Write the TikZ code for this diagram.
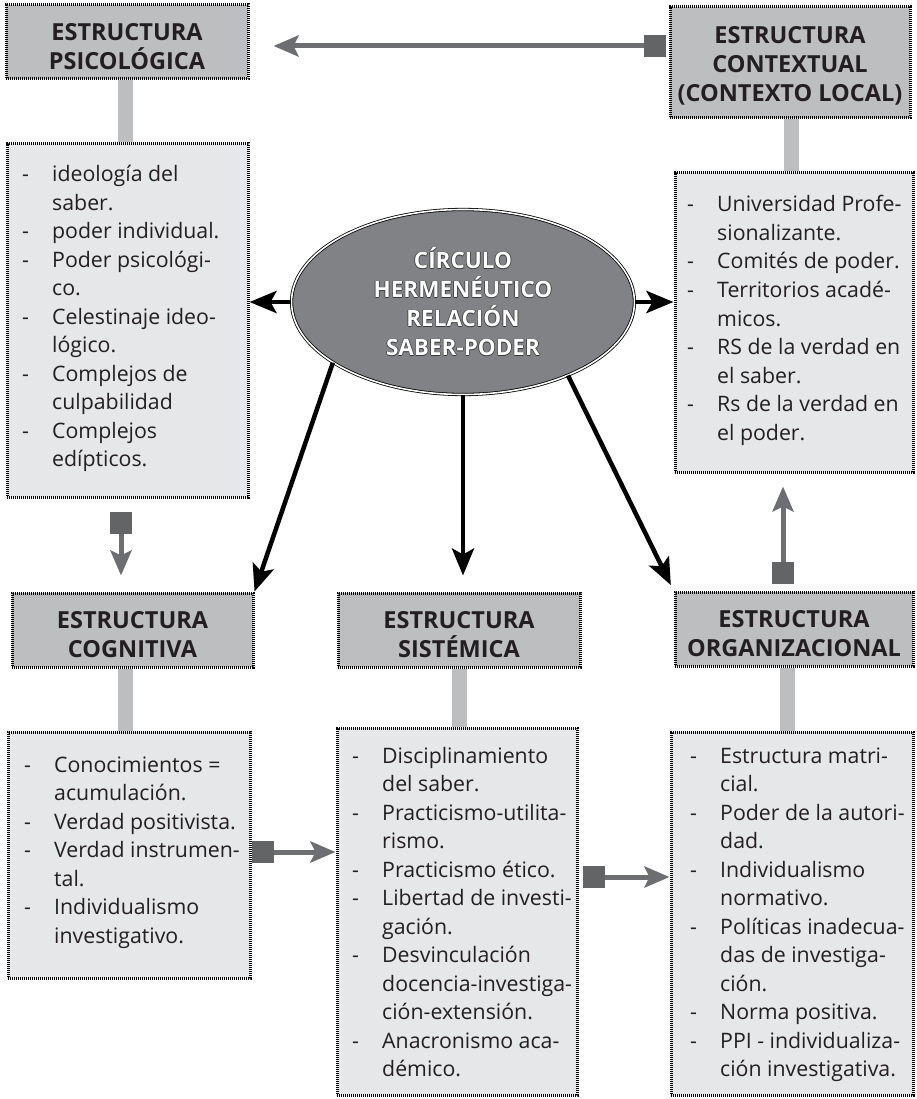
\documentclass[tikz,border=0pt]{standalone}
\usepackage{fontspec}
\setmainfont{Open Sans}
\usetikzlibrary{arrows.meta,shapes.geometric,backgrounds}
\definecolor{hdrgray}{HTML}{BCBEC0}
\definecolor{bodygray}{HTML}{E6E7E8}
\definecolor{bargray}{HTML}{BCBEC0}
\definecolor{sqgray}{HTML}{636466}
\definecolor{arrgray}{HTML}{6D6E71}
\definecolor{ellgray}{HTML}{808285}
\definecolor{txtdark}{HTML}{231F20}
\definecolor{olcol}{HTML}{3A3A3C}
\newcommand\olt[1]{\leavevmode\rlap{\color{olcol}\kern-0.7pt#1}\rlap{\color{olcol}\kern0.7pt#1}\rlap{\color{olcol}\raisebox{0.7pt}{#1}}\rlap{\color{olcol}\raisebox{-0.7pt}{#1}}{\color{white}#1}}
\tikzset{
 hatch/.style={draw=black, line width=3pt, dash pattern=on 1.1pt off 0.9pt},
 headbox/.style={rectangle, fill=hdrgray, hatch, inner sep=0pt},
 headlabel/.style={inner sep=0pt, align=center, text=txtdark, font=\fontsize{23.5}{29}\bfseries, yshift=-4.5pt},
 bodybox/.style={rectangle, fill=bodygray, hatch, inner sep=0pt},
 bodytext/.style={inner sep=0pt, anchor=base west, text=txtdark, font=\fontsize{21.3}{28.5}\selectfont},
 bar/.style={draw=bargray, line width=15pt},
 blackarrow/.style={draw=black, line width=4.5pt, -{Stealth[length=27pt,width=22pt,inset=6pt]}},
 grayarrow/.style={draw=arrgray, line width=5pt, {Square[length=22pt,width=22pt,sep=0pt,color=sqgray]}-{Stealth[length=25pt,width=21pt,inset=5pt]}},
}
\begin{document}
\begin{tikzpicture}[x=1pt,y=-1pt]
\useasboundingbox (0,0) rectangle (917,1099);
% headers
\node[headbox, minimum width=242pt, minimum height=74pt, label={[headlabel]center:{ESTRUCTURA\\PSICOLÓGICA}}] (psicoHead) at (127,42) {};
\node[headbox, minimum width=240pt, minimum height=111pt, label={[headlabel, yshift=1pt]center:{ESTRUCTURA\\CONTEXTUAL\\(CONTEXTO LOCAL)}}] (contextHead) at (790,62.5) {};
\node[headbox, minimum width=241pt, minimum height=74pt, label={[headlabel]center:{ESTRUCTURA\\COGNITIVA}}] (cogHead) at (132.5,630) {};
\node[headbox, minimum width=242pt, minimum height=74pt, label={[headlabel]center:{ESTRUCTURA\\SISTÉMICA}}] (sisHead) at (459,630) {};
\node[headbox, minimum width=238pt, minimum height=74pt, label={[headlabel]center:{ESTRUCTURA\\ORGANIZACIONAL}}] (orgHead) at (794,629) {};
% bodies
\node[bodybox, minimum width=241pt, minimum height=353pt] (psicoBody) at (127.5,320.5) {};
\node[bodybox, minimum width=238pt, minimum height=299pt] (contextBody) at (794,322.5) {};
\node[bodybox, minimum width=242pt, minimum height=246pt] (cogBody) at (129,855) {};
\node[bodybox, minimum width=240pt, minimum height=367pt] (sisBody) at (457,911.5) {};
\node[bodybox, minimum width=242pt, minimum height=363pt] (orgBody) at (792,913.5) {};
% body texts
\node[bodytext] (psicoText) at (22,182) {\begin{tabular}[t]{@{}p{30pt}@{}l@{}}
-&ideología del\\ &saber.\\ -&poder individual.\\ -&Poder psicológi-\\ &co.\\ -&Celestinaje ideo-\\ &lógico.\\ -&Complejos de\\ &culpabilidad\\ -&Complejos\\ &edípticos.
\end{tabular}};
\node[bodytext] (contextText) at (687,212) {\begin{tabular}[t]{@{}p{30pt}@{}l@{}}
-&Universidad Profe-\\ &sionalizante.\\ -&Comités de poder.\\ -&Territorios acadé-\\ &micos.\\ -&RS de la verdad en\\ &el saber.\\ -&Rs de la verdad en\\ &el poder.
\end{tabular}};
\node[bodytext] (cogText) at (24,772) {\begin{tabular}[t]{@{}p{30pt}@{}l@{}}
-&Conocimientos =\\ &acumulación.\\ -&Verdad positivista.\\ -&Verdad instrumen-\\ &tal.\\ -&Individualismo\\ &investigativo.
\end{tabular}};
\node[bodytext] (sisText) at (352,763) {\begin{tabular}[t]{@{}p{30pt}@{}l@{}}
-&Disciplinamiento\\ &del saber.\\ -&Practicismo-utilita-\\ &rismo.\\ -&Practicismo ético.\\ -&Libertad de investi-\\ &gación.\\ -&Desvinculación\\ &docencia-investiga-\\ &ción-extensión.\\ -&Anacronismo aca-\\ &démico.
\end{tabular}};
\node[bodytext] (orgText) at (690,763) {\begin{tabular}[t]{@{}p{30pt}@{}l@{}}
-&Estructura matri-\\ &cial.\\ -&Poder de la autori-\\ &dad.\\ -&Individualismo\\ &normativo.\\ -&Políticas inadecua-\\ &das de investiga-\\ &ción.\\ -&Norma positiva.\\ -&PPI - individualiza-\\ &ción investigativa.
\end{tabular}};
% central ellipse
\node[ellipse, fill=ellgray, draw=black, line width=0.8pt, double=white, double distance=1.6pt, minimum width=343pt, minimum height=185pt, inner sep=0pt, align=center, font=\fontsize{22.5}{29}\bfseries] (ell) at (463,302) {\olt{CÍRCULO}\\\olt{HERMENÉUTICO}\\\olt{RELACIÓN}\\\olt{SABER-PODER}};
% bars
\begin{scope}[on background layer]
\draw[bar] ([xshift=-1.5pt]psicoHead.south) -- ([xshift=-1.5pt]psicoHead.south |- psicoBody.north);
\draw[bar] ([xshift=1pt]contextHead.south) -- ([xshift=1pt]contextHead.south |- contextBody.north);
\draw[bar] ([xshift=-7pt]cogHead.south) -- ([xshift=-7pt]cogHead.south |- cogBody.north);
\draw[bar] (sisHead.south) -- (sisHead.south |- sisBody.north);
\draw[bar] ([xshift=-6.5pt]orgHead.south) -- ([xshift=-6.5pt]orgHead.south |- orgBody.north);
\end{scope}
% black arrows
\draw[blackarrow] (ell.west) -- (psicoBody.east |- ell.west);
\draw[blackarrow] (ell.east) -- (contextBody.west |- ell.east);
\draw[blackarrow] (ell.205) -- (cogHead.north east);
\draw[blackarrow, shorten >=16pt] (ell.south) -- (ell.south |- sisHead.north);
\draw[blackarrow, shorten >=6pt] (ell.325) -- (orgHead.north west);
% gray arrows
\draw[grayarrow, shorten <=3pt, shorten >=24pt] (contextHead.west |- 0,46) -- (psicoHead.east |- 0,46);
\draw[grayarrow, shorten <=13pt, shorten >=16pt] (psicoBody.south -| 121,0) -- (cogHead.north -| 121,0);
\draw[grayarrow] (cogBody.east |- 0,852) -- (sisBody.west |- 0,852);
\draw[grayarrow, shorten <=4pt] (sisBody.east |- 0,877) -- (orgBody.west |- 0,877);
\draw[grayarrow, shorten <=7pt, shorten >=13pt] (orgHead.north -| 783,0) -- (contextBody.south -| 783,0);
\end{tikzpicture}
\end{document}
